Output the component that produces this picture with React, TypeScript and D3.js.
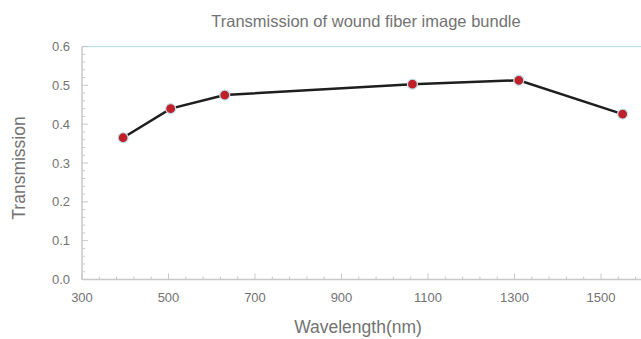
import React from "react";
import * as d3 from "d3";

const wavelengths = [395, 505, 630, 1064, 1310, 1550];
const transmission = [0.365, 0.44, 0.475, 0.503, 0.513, 0.426];
const xTickValues = [300, 500, 700, 900, 1100, 1300, 1500];
const yTickValues = [0, 0.1, 0.2, 0.3, 0.4, 0.5, 0.6];

const W = 641;
const H = 339;
const margin = { left: 82, top: 46.5, bottom: 59.5 };
const FONT = "'Liberation Sans', Arial, Helvetica, sans-serif";

export default function App() {
  const x = d3.scaleLinear().domain([300, 1600]).range([margin.left, margin.left + 1300 * (86.5 / 200)]);
  const y = d3.scaleLinear().domain([0, 0.6]).range([H - margin.bottom, margin.top]);
  const data = wavelengths.map((w, i) => ({ w, t: transmission[i] }));
  const line = d3
    .line<{ w: number; t: number }>()
    .x((d) => x(d.w))
    .y((d) => y(d.t));
  const xMinor = d3.range(300, 1601, 40);
  const yMinor = d3.range(0, 0.6001, 0.02);
  const axisColor = "#c8c8c8";
  const textColor = "#737373";
  const x0 = margin.left;
  const y0 = y(0);
  return (
    <svg
      width={W}
      height={H}
      style={{ position: "absolute", left: 0, top: 0 }}
      fontFamily={FONT}
    >
      <rect width={W} height={H} fill="#fff" />
      <text x={366} y={27} textAnchor="middle" fontSize={16.5} fill={textColor}>
        Transmission of wound fiber image bundle
      </text>
      {/* top border */}
      <line x1={x0} x2={W} y1={y(0.6)} y2={y(0.6)} stroke="#bfe3ea" strokeWidth={1.5} />
      {/* axes */}
      <line x1={x0} x2={W} y1={y0} y2={y0} stroke={axisColor} strokeWidth={1.5} />
      <line x1={x0} x2={x0} y1={y0} y2={y(0.6)} stroke={axisColor} strokeWidth={1.5} />
      {xMinor.map((v) => (
        <line key={"xm" + v} x1={x(v)} x2={x(v)} y1={y0} y2={y0 - ((v - 300) % 200 === 0 ? 6 : 3)} stroke={axisColor} />
      ))}
      {yMinor.map((v, i) => (
        <line key={"ym" + i} x1={x0} x2={x0 + (i % 5 === 0 ? 6 : 3)} y1={y(v)} y2={y(v)} stroke={axisColor} />
      ))}
      {xTickValues.map((v) => (
        <text key={"xt" + v} x={x(v)} y={y0 + 22} textAnchor="middle" fontSize={13} fill={textColor}>
          {v}
        </text>
      ))}
      {yTickValues.map((v) => (
        <text key={"yt" + v} x={x0 - 12} y={y(v) + 4.5} textAnchor="end" fontSize={13} fill={textColor}>
          {v.toFixed(1)}
        </text>
      ))}
      <text x={358} y={333} textAnchor="middle" fontSize={17.5} fill={textColor}>
        Wavelength(nm)
      </text>
      <text
        transform={`translate(25, 168) rotate(-90)`}
        textAnchor="middle"
        fontSize={17.5}
        fill={textColor}
      >
        Transmission
      </text>
      <path d={line(data) ?? ""} fill="none" stroke="#1e1e1e" strokeWidth={2.5} />
      {data.map((d, i) => (
        <circle key={"p" + i} cx={x(d.w)} cy={y(d.t)} r={5} fill="#c0202a" stroke="#bfe3ea" strokeWidth={1.2} />
      ))}
    </svg>
  );
}
